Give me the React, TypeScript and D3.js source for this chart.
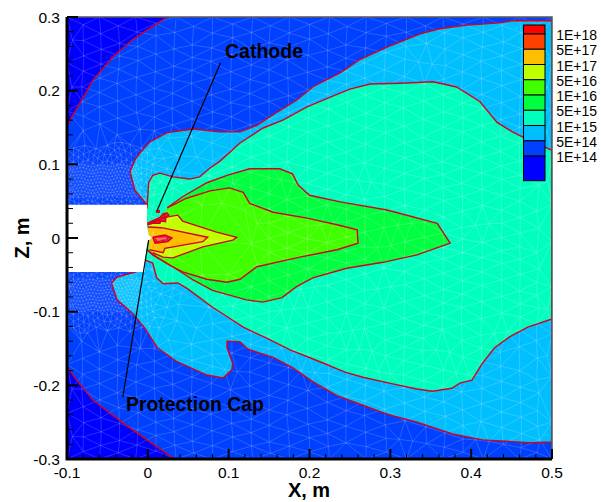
import React from "react";
import * as d3 from "d3";

type P = [number, number];

const xMajor = [-0.1, 0, 0.1, 0.2, 0.3, 0.4, 0.5];
const xLabels = ["-0.1", "0", "0.1", "0.2", "0.3", "0.4", "0.5"];
const zMajor = [-0.3, -0.2, -0.1, 0, 0.1, 0.2, 0.3];
const zLabels = ["-0.3", "-0.2", "-0.1", "0", "0.1", "0.2", "0.3"];
const minorStep = 0.02;

const legendLabels = ["1E+18", "5E+17", "1E+17", "5E+16", "1E+16", "5E+15", "1E+15", "5E+14", "1E+14"];
const legendColors = ["#ff0000", "#ff4000", "#ffbf00", "#bfff00", "#40ff00", "#00ff40", "#00ffbf", "#00bfff", "#0040ff", "#0000ff"];

const darkTop: P[] = [[-.1,.153],[-.084,.183],[-.068,.214],[-.043,.246],[-.019,.269],[.024,.3]];
const darkBottom: P[] = [[-.1,-.175],[-.088,-.193],[-.068,-.22],[-.031,-.251],[-.001,-.274],[.033,-.3]];
const cyanBand: P[] = [[-.001,.045],[-.016,.065],[-.022,.09],[-.016,.106],[-.01,.115],[.002,.13],[.024,.143],[.056,.148],[.089,.144],[.114,.144],[.135,.153],[.16,.171],[.184,.187],[.204,.205],[.238,.224],[.262,.242],[.296,.259],[.337,.277],[.361,.284],[.395,.289],[.435,.292],[.452,.295],[.5,.295],
  [.5,-.277],[.473,-.278],[.414,-.274],[.377,-.266],[.333,-.25],[.296,-.239],[.266,-.227],[.234,-.214],[.204,-.195],[.179,-.176],[.155,-.162],[.124,-.151],[.114,-.141],[.098,-.14],[.098,-.149],[.105,-.17],[.104,-.179],[.093,-.19],[.073,-.186],[.036,-.168],[.012,-.149],[-.004,-.122],[-.019,-.102],[-.038,-.084],[-.045,-.061],[-.038,-.053],[-.014,-.046]];
const tealBand: P[] = [[-.001,.04],[.001,.075],[.006,.085],[.015,.088],[.031,.083],[.052,.08],[.064,.083],[.077,.095],[.089,.104],[.114,.129],[.142,.149],[.167,.16],[.197,.178],[.225,.191],[.25,.202],[.275,.209],[.312,.21],[.353,.212],[.382,.205],[.411,.185],[.432,.157],[.451,.144],[.464,.137],[.5,.119],
  [.5,-.11],[.47,-.121],[.448,-.134],[.429,-.149],[.414,-.17],[.401,-.193],[.386,-.197],[.376,-.204],[.352,-.208],[.333,-.205],[.303,-.198],[.266,-.189],[.244,-.182],[.213,-.168],[.176,-.152],[.147,-.136],[.118,-.121],[.08,-.094],[.064,-.081],[.048,-.068],[.037,-.061],[.019,-.062],[.011,-.054],[.006,-.034],[-.003,-.03]];
const greenBand: P[] = [[.024,.041],[.043,.056],[.073,.075],[.098,.085],[.126,.094],[.163,.094],[.179,.087],[.186,.072],[.2,.058],[.238,.049],[.296,.038],[.358,.02],[.374,-.007],[.333,-.023],[.291,-.033],[.246,-.041],[.204,-.054],[.184,-.066],[.166,-.081],[.142,-.087],[.122,-.084],[.08,-.071],[.056,-.057],[.031,-.039],[.011,-.026],[-.001,-.016]];
const limeBand: P[] = [[.024,.041],[.048,.054],[.077,.064],[.101,.068],[.118,.062],[.126,.047],[.155,.035],[.197,.027],[.234,.018],[.259,.011],[.26,-.007],[.234,-.016],[.188,-.026],[.135,-.039],[.114,-.056],[.098,-.06],[.073,-.056],[.043,-.046],[.027,-.037],[.006,-.023],[-.001,-.016]];
const yellowBand: P[] = [[.001,.019],[.021,.028],[.037,.031],[.043,.023],[.085,.008],[.11,.001],[.105,-.003],[.068,-.012],[.031,-.027],[.019,-.026],[.006,-.02]];
const orangeBand: P[] = [[0,.015],[.017,.014],[.074,.001],[.068,-.005],[.021,-.014],[.019,-.02],[.002,-.016]];
const eyeOuter: P[] = [[.006,.001],[.021,.004],[.03,0],[.025,-.005],[.009,-.007],[.006,.001]];
const eyeInner: P[] = [[.009,0],[.021,.001],[.024,-.001],[.012,-.004],[.009,0]];
const cathodeClot: P[] = [[-.001,.02],[.005,.023],[.011,.026],[.015,.028],[.019,.033],[.024,.034],[.026,.031],[.022,.027],[.022,.022],[.016,.023],[.015,.02],[.006,.02],[0,.018],[-.001,.02]];
const cathodeSpot: P[] = [[.01,.038],[.015,.038],[.015,.034],[.01,.034],[.01,.038]];
const wall: P[] = [[-.1,.045],[-.001,.045],[-.001,.022],[-.001,.016],[.001,.004],[.005,0],[0,-.004],[-.002,-.016],[-.004,-.046],[-.1,-.046]];
const cathodeLeader: P[] = [[.09,.238],[.011,.036]];
const capLeader: P[] = [[.001,-.003],[-.031,-.216]];

const meshFar: number[] = [
-100,300,-60,300,-15,300,35,300,80,300,130,300,175,300,225,300,270,300,320,300,365,300,415,300,460,300,500,300,
-80,268,-35,264,10,275,55,262,105,272,150,265,200,270,245,262,295,274,345,264,390,272,440,266,485,270,
-100,238,-58,236,-12,241,32,233,78,240,128,235,172,242,222,232,268,238,318,243,368,234,412,240,462,236,500,240,
-82,205,-38,210,8,203,54,210,102,202,150,208,198,201,246,209,292,204,342,210,388,202,438,207,484,201,
-100,172,-60,178,-14,170,30,176,80,171,126,178,174,170,224,175,270,169,316,177,366,171,414,176,460,168,500,174,
-80,146,-38,140,8,146,54,138,104,145,150,138,198,144,246,137,294,143,340,136,390,144,436,138,482,145,
60,110,80,104,128,110,172,103,222,110,268,102,318,109,364,103,412,110,460,104,500,112,
105,75,150,82,198,74,246,80,292,73,342,81,388,74,438,80,484,72,
128,47,172,52,222,45,268,52,318,44,366,51,414,44,460,50,500,46,
150,20,198,16,246,22,292,14,342,21,388,14,438,20,484,13,
128,-8,172,-14,222,-6,268,-12,318,-5,366,-13,414,-6,460,-12,500,-5,
150,-36,198,-42,246,-34,292,-41,342,-33,388,-40,438,-34,484,-42,
128,-66,172,-72,222,-64,268,-71,318,-63,366,-70,414,-64,460,-72,500,-66,
105,-92,150,-100,198,-94,246,-102,292,-95,342,-101,388,-94,438,-102,484,-95,
60,-122,80,-116,128,-128,172,-122,222,-130,268,-123,318,-131,364,-124,412,-132,460,-125,500,-130,
-82,-140,-38,-146,8,-150,54,-144,104,-156,150,-150,198,-158,246,-152,294,-160,340,-153,390,-162,436,-155,482,-163,
-100,-172,-60,-178,-14,-172,30,-180,80,-174,126,-182,174,-176,224,-184,270,-177,316,-186,366,-179,414,-187,460,-180,500,-188,
-82,-205,-38,-210,8,-204,54,-212,102,-206,150,-214,198,-207,246,-215,292,-208,342,-216,388,-209,438,-217,484,-210,
-100,-238,-58,-244,-12,-237,32,-245,78,-239,128,-246,172,-240,222,-247,268,-241,318,-248,368,-242,412,-249,462,-243,500,-250,
-80,-270,-35,-275,10,-268,55,-276,105,-270,150,-277,200,-271,245,-278,295,-272,345,-279,390,-273,440,-280,485,-274,
-100,-300,-60,-300,-15,-300,35,-300,80,-300,130,-300,175,-300,225,-300,270,-300,320,-300,365,-300,415,-300,460,-300,500,-300,
];
const meshDense: number[] = [
-98,52,-86,56,-74,51,-62,55,-50,52,-38,56,-26,51,-14,55,-4,52,8,58,20,62,32,68,
-92,66,-80,69,-68,64,-56,68,-44,65,-32,69,-20,64,-8,68,4,72,16,76,28,80,42,74,
-98,79,-86,82,-74,78,-62,81,-50,77,-38,82,-26,78,-14,81,-2,86,10,90,24,94,38,90,
-92,93,-80,96,-68,91,-56,95,-44,92,-32,96,-20,91,-8,95,6,100,20,108,36,112,
-98,107,-86,110,-74,106,-62,109,-50,105,-38,110,-26,106,-14,109,0,116,14,122,
-92,122,-78,126,-64,121,-50,126,-36,122,-22,127,-8,122,
-98,-52,-86,-56,-74,-51,-62,-55,-50,-52,-38,-56,-26,-51,-14,-55,-4,-52,8,-58,20,-62,32,-68,
-92,-66,-80,-69,-68,-64,-56,-68,-44,-65,-32,-69,-20,-64,-8,-68,4,-72,16,-76,28,-80,42,-74,
-98,-79,-86,-82,-74,-78,-62,-81,-50,-77,-38,-82,-26,-78,-14,-81,-2,-86,10,-90,24,-94,38,-90,
-92,-93,-80,-96,-68,-91,-56,-95,-44,-92,-32,-96,-20,-91,-8,-95,6,-100,20,-108,36,-112,
-98,-107,-86,-110,-74,-106,-62,-109,-50,-105,-38,-110,-26,-106,-14,-109,0,-116,14,-122,
-92,-122,-78,-126,-64,-121,-50,-126,-36,-122,-22,-127,-8,-122,
];

const W = 601, H = 502;
const x = d3.scaleLinear().domain([-0.1, 0.5]).range([67, 552]);
const z = d3.scaleLinear().domain([-0.3, 0.3]).range([459, 17]);
const line = d3.line<P>().x(d => x(d[0])).y(d => z(d[1]));
const SANS = "'Liberation Sans', Arial, sans-serif";
const CONTOUR = "#d8001c";

const legendScale = d3.scaleLinear().domain([0, 9]).range([34, 171.3]);

function pairs(flat: number[]): P[] {
  const out: P[] = [];
  for (let i = 0; i < flat.length; i += 2) out.push([flat[i] / 1000, flat[i + 1] / 1000]);
  return out;
}

function minors(lo: number, hi: number, major: number[]): number[] {
  return d3.range(Math.round((hi - lo) / minorStep) + 1)
    .map(i => lo + i * minorStep)
    .filter(v => !major.some(m => Math.abs(m - v) < 1e-6));
}

// Splits the large triangles of the node list at their centroids, so the mesh gets finer where the reference's is.
function refine(nodes: P[], keep: (c: P, area: number) => boolean): P[] {
  const d = d3.Delaunay.from(nodes, n => x(n[0]), n => z(n[1]));
  const added: P[] = [];
  for (let t = 0; t < d.triangles.length; t += 3) {
    const [a, b, c] = [nodes[d.triangles[t]], nodes[d.triangles[t + 1]], nodes[d.triangles[t + 2]]];
    const area = Math.abs((x(b[0]) - x(a[0])) * (z(c[1]) - z(a[1])) - (x(c[0]) - x(a[0])) * (z(b[1]) - z(a[1]))) / 2;
    const centre: P = [(a[0] + b[0] + c[0]) / 3, (a[1] + b[1] + c[1]) / 3];
    if (keep(centre, area)) added.push(centre);
  }
  return nodes.concat(added);
}

export default function App() {
  let nodes: P[] = [...pairs(meshFar), ...pairs(meshDense)];
  nodes = refine(nodes, (_, area) => area > 300);
  nodes = refine(nodes, c => c[0] < 0.01 && Math.abs(c[1]) < 0.13);
  nodes = refine(nodes, c => c[0] < -0.01 && Math.abs(c[1]) < 0.1);
  const delaunay = d3.Delaunay.from(nodes, d => x(d[0]), d => z(d[1]));
  const mesh = delaunay.render();

  const filled = (pts: P[], color: string) => <path d={(line(pts) as string) + "Z"} fill={color} />;
  const bands: [P[], string][] = [
    [darkTop.concat([[-.1, .3]]), legendColors[9]],
    [darkBottom.concat([[-.1, -.3]]), legendColors[9]],
    [cyanBand, legendColors[7]],
    [tealBand, legendColors[6]],
    [greenBand, legendColors[5]],
    [limeBand, legendColors[4]],
    [yellowBand, legendColors[3]],
    [orangeBand, legendColors[2]],
    [eyeOuter, "#d81828"],
    [eyeInner, "#ff6060"],
    [cathodeClot, "#e00a1e"],
    [cathodeSpot, legendColors[0]],
  ];
  const contours = [darkTop, darkBottom, cyanBand, tealBand, greenBand, limeBand, yellowBand, orangeBand, eyeOuter, cathodeClot];

  return (
    <svg width={W} height={H} viewBox={`0 0 ${W} ${H}`} style={{ position: "absolute", left: 0, top: 0, background: "#fff" }} fontFamily={SANS}>
      <defs>
        <clipPath id="plot"><rect x={67} y={17} width={485} height={442} /></clipPath>
      </defs>
      <g clipPath="url(#plot)">
        <rect x={67} y={17} width={485} height={442} fill={legendColors[8]} />
        {bands.map(([pts, c], i) => <React.Fragment key={i}>{filled(pts, c)}</React.Fragment>)}
        <path d={mesh} fill="none" stroke="#fff" strokeOpacity={0.17} strokeWidth={1} />
        {contours.map((pts, i) => (
          <path key={i} d={line(pts) as string} fill="none" stroke={CONTOUR} strokeWidth={1.4} />
        ))}
        <path d={(line(wall) as string) + "Z"} fill="#fff" />
      </g>

      <path d={line(cathodeLeader) as string} stroke="#000" strokeWidth={1.2} fill="none" />
      <path d={line(capLeader) as string} stroke="#000" strokeWidth={1.2} fill="none" />
      <path d={(line(cathodeSpot) as string) + "Z"} fill={CONTOUR} />

      {/* frame */}
      <path d={`M67,17H552V459`} fill="none" stroke="#555" strokeWidth={1.5} />
      <path d={`M67,17V459H552`} fill="none" stroke="#000" strokeWidth={3} />

      {/* ticks */}
      {xMajor.map((v, i) => (
        <g key={i}>
          <line x1={x(v)} x2={x(v)} y1={459} y2={449} stroke="#000" strokeWidth={2} />
          <text x={x(v)} y={478} textAnchor="middle" fontSize={15.5}>{xLabels[i]}</text>
        </g>
      ))}
      {minors(-0.1, 0.5, xMajor).map((v, i) => (
        <line key={i} x1={x(v)} x2={x(v)} y1={459} y2={454} stroke="#000" strokeWidth={1} />
      ))}
      {zMajor.map((v, i) => (
        <g key={i}>
          <line x1={67} x2={78} y1={z(v)} y2={z(v)} stroke="#000" strokeWidth={2} />
          <text x={60} y={z(v) + 5.5} textAnchor="end" fontSize={15.5}>{zLabels[i]}</text>
        </g>
      ))}
      {minors(-0.3, 0.3, zMajor).map((v, i) => (
        <line key={i} x1={67} x2={73} y1={z(v)} y2={z(v)} stroke="#000" strokeWidth={1} />
      ))}

      <text x={309} y={497} textAnchor="middle" fontSize={20} fontWeight="bold">X, m</text>
      <text transform="translate(29,238) rotate(-90)" textAnchor="middle" fontSize={20} fontWeight="bold">Z, m</text>
      <text x={225} y={58} fontSize={19.5} fontWeight="bold">Cathode</text>
      <text x={126} y={411} fontSize={19.4} fontWeight="bold">Protection Cap</text>

      {/* legend */}
      {legendColors.map((c, i) => {
        const y0 = i === 0 ? 25 : legendScale(i - 1);
        const y1 = i === 9 ? 180.7 : legendScale(i);
        return <rect key={i} x={523.5} width={21.5} y={y0} height={y1 - y0} fill={c} stroke="#000" strokeWidth={1} />;
      })}
      {legendLabels.map((t, i) => (
        <text key={t + i} x={597} y={legendScale(i) + 6} textAnchor="end" fontSize={14}>{t}</text>
      ))}
    </svg>
  );
}
